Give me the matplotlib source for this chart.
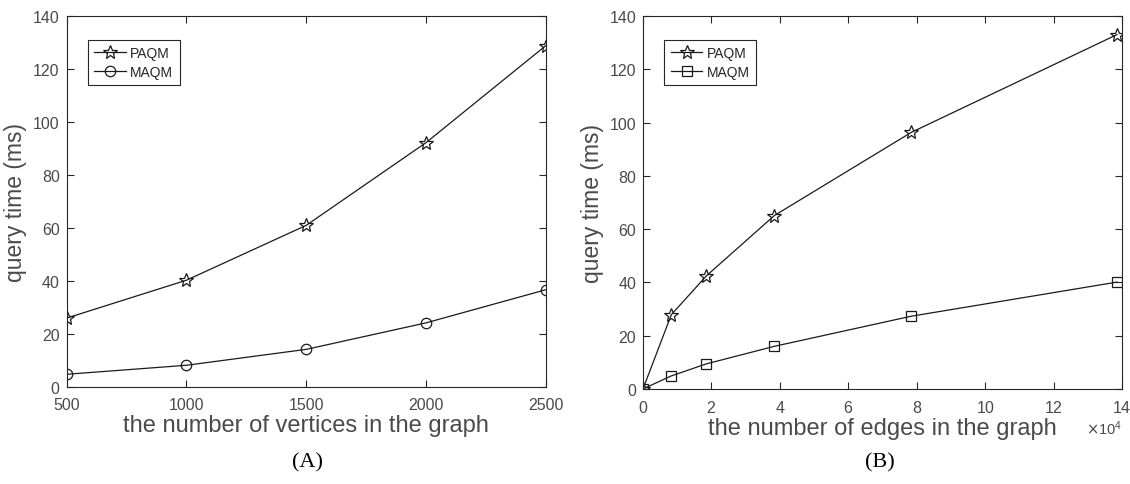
import numpy as np
import matplotlib
matplotlib.use('Agg')
import matplotlib.pyplot as plt
from matplotlib.ticker import ScalarFormatter

# Datos (A): tiempo de consulta vs número de vértices
vertices = [500, 1000, 1500, 2000, 2500]
paqm_vert = [26.0, 40.3, 61.0, 92.2, 128.8]
maqm_vert = [4.8, 8.2, 14.2, 24.2, 36.7]

# Datos del gráfico (B): tiempo de consulta vs número de aristas
edges = [0, 8300, 18500, 38400, 78400, 138500]
paqm_edge = [0.0, 27.9, 42.4, 65.1, 96.3, 133.0]
maqm_edge = [0.0, 4.9, 9.4, 16.0, 27.3, 40.1]

GRAY = '#262626'
TXT = '#4a4a4a'
plt.rcParams['font.family'] = ['Liberation Sans', 'DejaVu Sans']

fig = plt.figure(figsize=(11.3, 4.85), dpi=100)
ax1 = fig.add_axes([0.059, 0.200, 0.424, 0.765])
ax2 = fig.add_axes([0.569, 0.196, 0.424, 0.769])


def style_axis(ax):
    # Estilo tipo MATLAB: caja completa, ticks hacia adentro, gris oscuro
    for s in ax.spines.values():
        s.set_color(GRAY)
        s.set_linewidth(0.8)
    ax.tick_params(direction='in', top=True, right=True, colors=GRAY,
                   labelcolor=TXT, labelsize=11.5, length=5, width=0.8, pad=5)
    ax.tick_params(axis='x', pad=7)
    ax.set_ylim(0, 140)
    ax.set_yticks(np.arange(0, 141, 20))
    ax.set_ylabel('query time (ms)', fontsize=16.5, color=TXT, labelpad=4)


line_kw = dict(color='#1a1a1a', linewidth=0.9, markerfacecolor='none',
               markeredgecolor='#1a1a1a', markeredgewidth=0.9)

ax1.plot(vertices, paqm_vert, marker='*', markersize=10, label='PAQM', **line_kw)
ax1.plot(vertices, maqm_vert, marker='o', markersize=7.5, label='MAQM', **line_kw)
ax1.set_xlim(500, 2500)
ax1.set_xticks(vertices)
style_axis(ax1)
ax1.set_xlabel('the number of vertices in the graph', fontsize=17, color=TXT, labelpad=2)

ax2.plot(edges, paqm_edge, marker='*', markersize=10, label='PAQM', **line_kw)
ax2.plot(edges, maqm_edge, marker='s', markersize=6.5, label='MAQM', **line_kw)
ax2.set_xlim(0, 140000)
ax2.set_xticks(np.arange(0, 140001, 20000))
fmt = ScalarFormatter(useMathText=True)
fmt.set_powerlimits((4, 4))
ax2.xaxis.set_major_formatter(fmt)
style_axis(ax2)
ax2.xaxis.get_offset_text().set_color(TXT)
ax2.xaxis.get_offset_text().set_fontsize(10.5)
ax2.set_xlabel('the number of edges in the graph', fontsize=17, color=TXT, labelpad=2)

for ax in (ax1, ax2):
    leg = ax.legend(loc='upper left', bbox_to_anchor=(0.03, 0.955), fontsize=10,
                    fancybox=False, framealpha=1, edgecolor=GRAY,
                    handlelength=2.3, borderpad=0.45, labelspacing=0.35,
                    handletextpad=0.3)
    leg.get_frame().set_linewidth(0.8)
    for t in leg.get_texts():
        t.set_color(GRAY)

fig.text(0.272, 0.045, '(A)', fontsize=16, family=['Liberation Serif', 'DejaVu Serif'],
         ha='center', va='center')
fig.text(0.779, 0.045, '(B)', fontsize=16, family=['Liberation Serif', 'DejaVu Serif'],
         ha='center', va='center')

fig.savefig('out.png', dpi=100)
